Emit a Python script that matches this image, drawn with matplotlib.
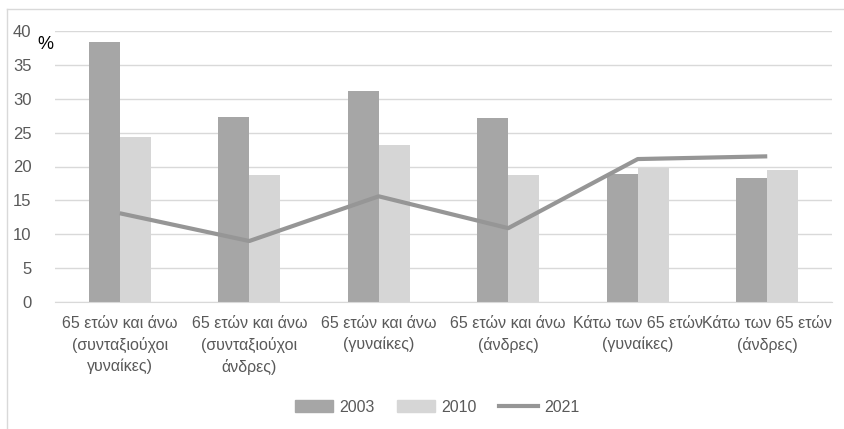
import numpy as np
import matplotlib.pyplot as plt
from matplotlib.patches import Rectangle
from matplotlib.lines import Line2D

plt.rcParams['font.family'] = ['Liberation Sans', 'DejaVu Sans']

categories = ['65 ετών και άνω\n(συνταξιούχοι\nγυναίκες)',
              '65 ετών και άνω\n(συνταξιούχοι\nάνδρες)',
              '65 ετών και άνω\n(γυναίκες)',
              '65 ετών και άνω\n(άνδρες)',
              'Κάτω των 65 ετών\n(γυναίκες)',
              'Κάτω των 65 ετών\n(άνδρες)']
v2003 = [38.4, 27.3, 31.1, 27.2, 18.9, 18.3]
v2010 = [24.4, 18.7, 23.2, 18.7, 19.8, 19.5]
v2021 = [13.1, 9.0, 15.6, 10.9, 21.1, 21.5]
yticks = [0, 5, 10, 15, 20, 25, 30, 35, 40]

c03 = '#a6a6a6'
c10 = '#d6d6d6'
c21 = '#969696'
txt = '#595959'

fig = plt.figure(figsize=(8.44, 4.29), dpi=100)
ax = fig.add_axes([55 / 844, 1 - 302 / 429, 777 / 844, 271 / 429])

x = np.arange(len(categories))
w = 0.24
ax.bar(x - w / 2, v2003, w, color=c03, zorder=2, label='2003')
ax.bar(x + w / 2, v2010, w, color=c10, zorder=2, label='2010')
ax.plot(x, v2021, color=c21, lw=3, zorder=3, label='2021', solid_capstyle='butt')

ax.set_xlim(-0.5, len(categories) - 0.5)
ax.set_ylim(0, 40)
ax.set_yticks(yticks)
ax.yaxis.grid(True, color='#d9d9d9', lw=1, zorder=0)
ax.set_axisbelow(True)
for s in ['top', 'right', 'left']:
    ax.spines[s].set_visible(False)
ax.spines['bottom'].set_color('#d9d9d9')
ax.tick_params(axis='both', length=0, colors=txt, labelsize=12)
ax.tick_params(axis='y', pad=17)
ax.set_xticks(x)
ax.set_xticklabels(categories, fontsize=11.5, color=txt, linespacing=1.45)
ax.tick_params(axis='x', pad=10)

ax.text(-0.51, 38.0, '%', fontsize=13, color='black', ha='right', va='center')

handles = [Rectangle((0, 0), 1, 1, color=c03), Rectangle((0, 0), 1, 1, color=c10),
           Line2D([], [], color=c21, lw=3)]
fig.legend(handles, ['2003', '2010', '2021'], loc='center', bbox_to_anchor=(437 / 844, 1 - 407 / 429),
           ncol=3, frameon=False, fontsize=11.5, labelcolor=txt, handlelength=2.4,
           handleheight=0.7, columnspacing=1.4, handletextpad=0.4)

# chart area border (left and top edges visible)
fig.add_artist(Line2D([7 / 844, 7 / 844], [0, 1 - 9 / 429], color='#d9d9d9', lw=1, transform=fig.transFigure))
fig.add_artist(Line2D([7 / 844, 1], [1 - 9 / 429, 1 - 9 / 429], color='#d9d9d9', lw=1, transform=fig.transFigure))

fig.savefig('out.png', dpi=100)
